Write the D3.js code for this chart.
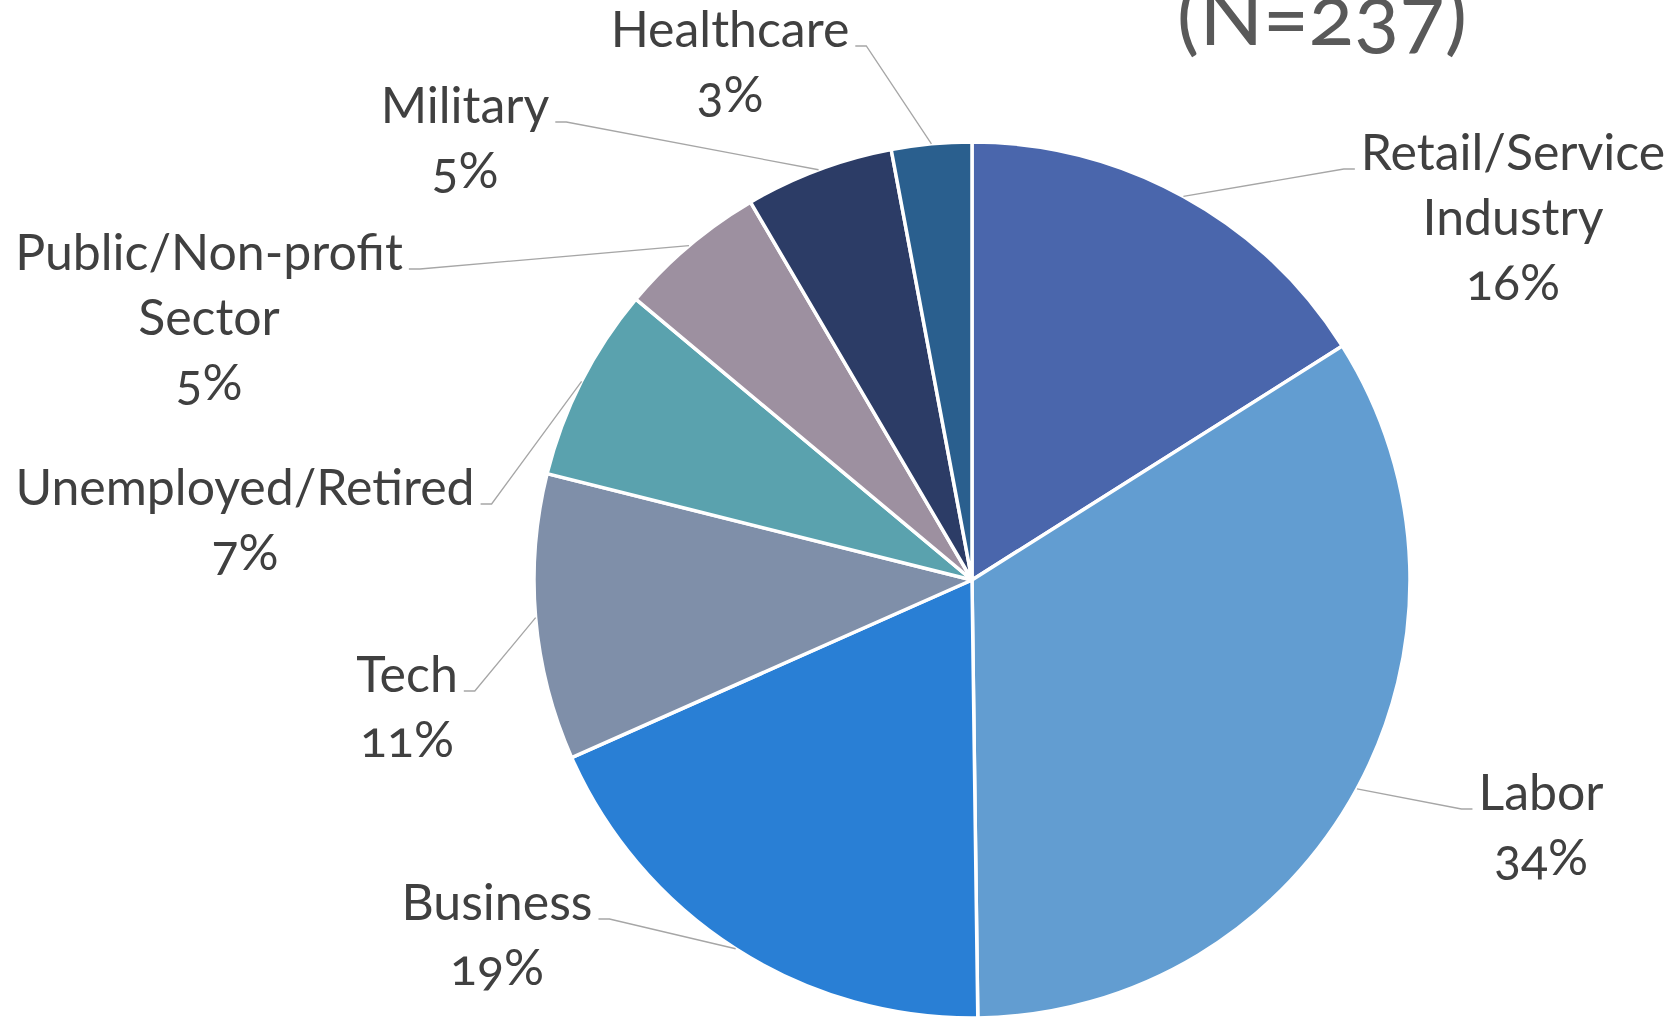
<!DOCTYPE html>
<html>
<head>
<meta charset="utf-8">
<script src="https://cdn.jsdelivr.net/npm/d3@7"></script>
<style>
  body { margin: 0; background: #fff; }
  svg { display: block; }
  text { font-family: Lato, "Open Sans", sans-serif; font-feature-settings: "onum" 1; }
  .lbl { fill: #404040; }
</style>
</head>
<body>
<script>
// data (N=237)
var categories = ["Retail/Service Industry", "Labor", "Business", "Tech",
                  "Unemployed/Retired", "Public/Non-profit Sector", "Military", "Healthcare"];
var counts = [38, 80, 44, 25, 17, 13, 13, 7];
var pctLabels = ["16%", "34%", "19%", "11%", "7%", "5%", "5%", "3%"];
var colors = ["#4A66AC", "#629DD1", "#297FD5", "#7F8FA9",
              "#5AA2AE", "#9D90A0", "#2C3C66", "#2A5F8E"];

// how the category names wrap in the labels
var nameLines = [["Retail/Service", "Industry"], ["Labor"], ["Business"], ["Tech"],
                 ["Unemployed/Retired"], ["Public/Non-profit", "Sector"], ["Military"], ["Healthcare"]];

// label placement (centre x, first baseline, which side of pie)
var labelPos = [
    {x: 1513, y: 170, side: "right"},
    {x: 1541, y: 810, side: "right"},
    {x: 497, y: 920, side: "left"},
    {x: 407, y: 692, side: "left"},
    {x: 245, y: 505, side: "left"},
    {x: 209, y: 270, side: "left"},
    {x: 465, y: 123, side: "left"},
    {x: 730, y: 47, side: "left"}
];

window.onload = drawPie();

function drawPie(){
    var width = 1675,
        height = 1017,
        cx = 972,
        cy = 580,
        radius = 438,
        lineH = 65;

    var svg = d3.select("body")
        .append("svg")
        .attr("width", width)
        .attr("height", height);

    var pie = d3.pie()
        .sort(null)
        .value(function(d){ return d; });

    var arcs = pie(counts);

    var arc = d3.arc()
        .innerRadius(0)
        .outerRadius(radius);

    //point on the rim at the middle of each slice
    var rim = d3.arc()
        .innerRadius(radius)
        .outerRadius(radius);

    var g = svg.append("g")
        .attr("transform", "translate(" + cx + "," + cy + ")");

    g.selectAll(".slice")
        .data(arcs)
        .enter()
        .append("path")
        .attr("class", "slice")
        .attr("d", arc)
        .attr("fill", function(d, i){ return colors[i]; })
        .attr("stroke", "#fff")
        .attr("stroke-width", 3.5)
        .attr("stroke-linejoin", "round");

    //labels
    var labels = svg.selectAll(".lbl")
        .data(arcs)
        .enter()
        .append("text")
        .attr("class", "lbl")
        .attr("text-anchor", "middle")
        .style("font-size", "50px");

    labels.each(function(d, i){
        var t = d3.select(this);
        var lines = nameLines[i].concat([pctLabels[i]]);
        lines.forEach(function(s, k){
            t.append("tspan")
                .attr("x", labelPos[i].x)
                .attr("y", labelPos[i].y + k * lineH)
                .text(s);
        });
    });

    //leader lines
    labels.each(function(d, i){
        var first = d3.select(this).select("tspan").node();
        var w = first.getComputedTextLength();
        var p = labelPos[i];
        var edge = rim.centroid(d);
        var ex = cx + edge[0], ey = cy + edge[1];
        var x0, x1;
        if (p.side === "left") {
            x0 = p.x + w / 2 + 6;
            x1 = x0 + 11;
        } else {
            x0 = p.x - w / 2 - 6;
            x1 = x0 - 11;
        }
        var ly = p.y - 1;
        svg.append("path")
            .attr("d", "M" + x0 + "," + ly + "L" + x1 + "," + ly + "L" + ex + "," + ey)
            .attr("fill", "none")
            .attr("stroke", "#A6A6A6")
            .attr("stroke-width", 1.3);
    });

    //title, mostly cut off at the top
    svg.append("text")
        .attr("x", 1322)
        .attr("y", 45)
        .attr("text-anchor", "middle")
        .style("font-size", "84px")
        .style("fill", "#595959")
        .text("(N=237)");
};
</script>
</body>
</html>
